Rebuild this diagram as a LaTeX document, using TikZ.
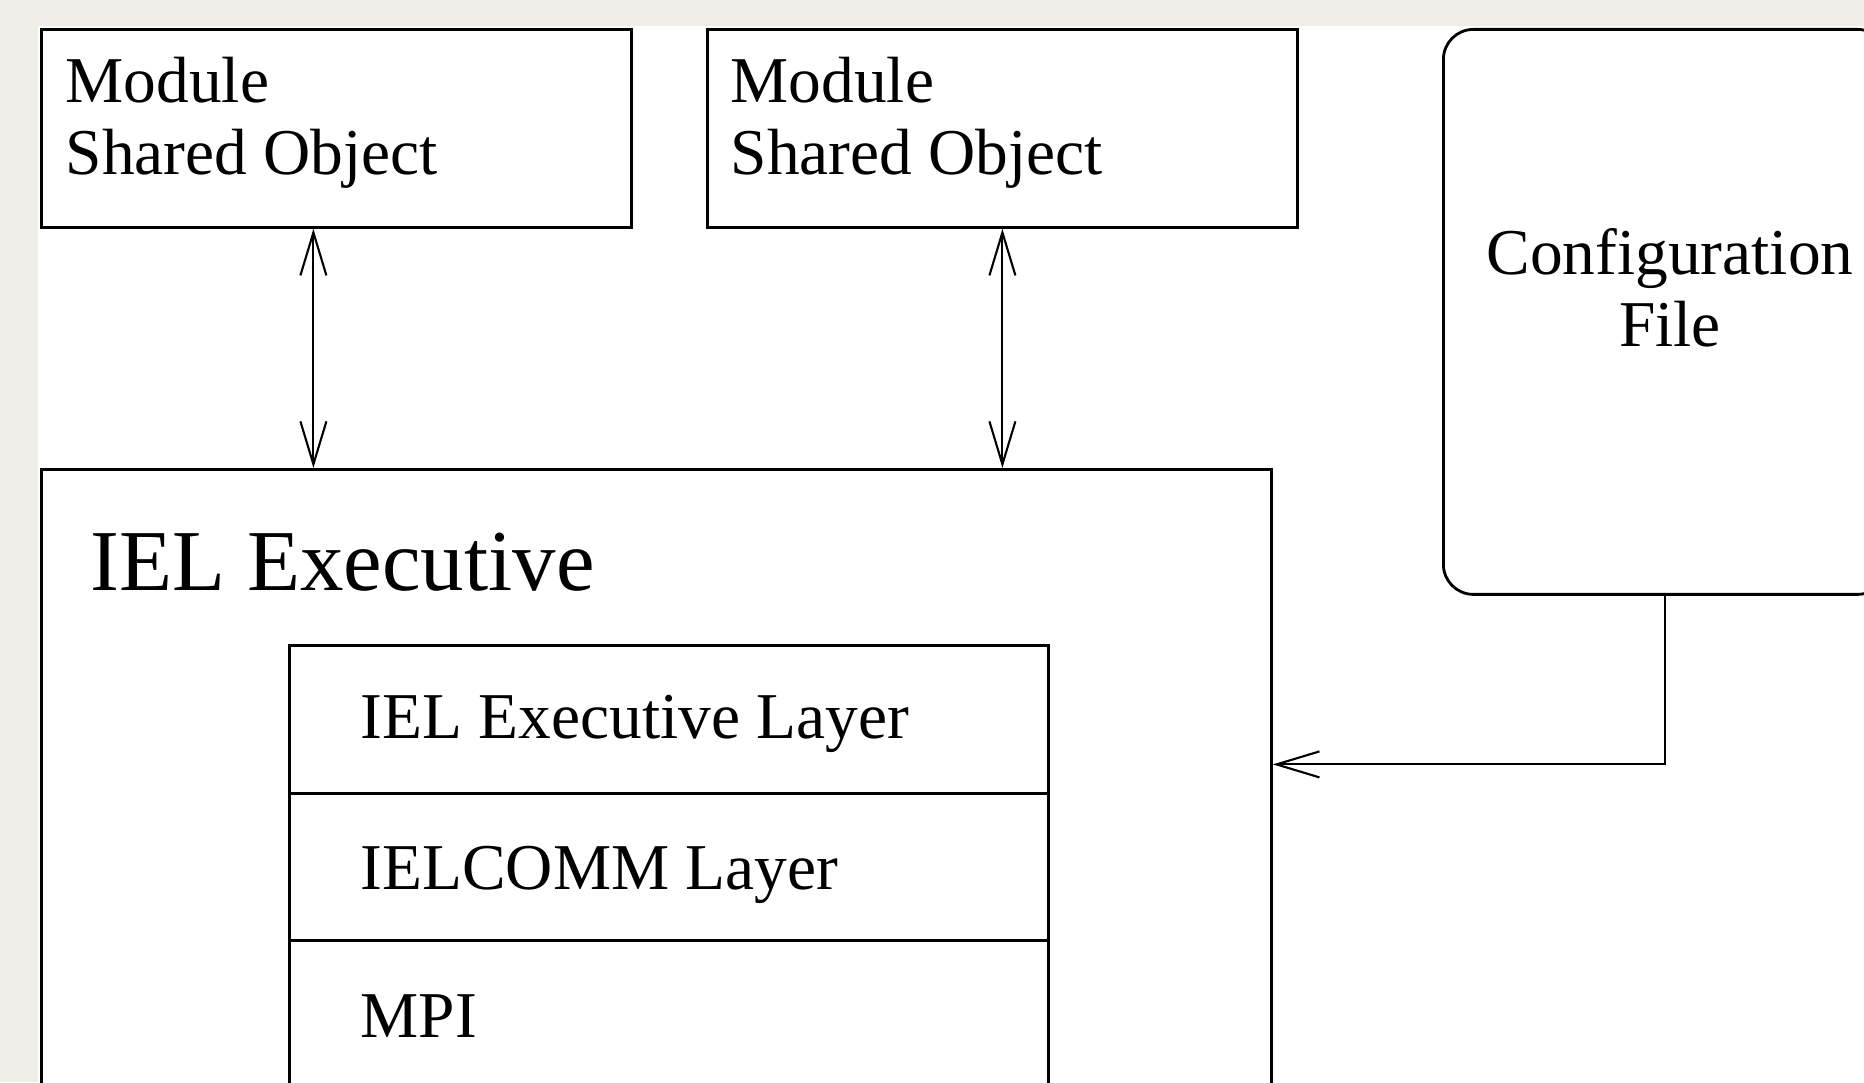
\documentclass[tikz,border=0pt]{standalone}
\usepackage{fontspec}
\setmainfont{Liberation Serif}
\usetikzlibrary{arrows.meta}
\definecolor{sidegray}{RGB}{238,238,231}
\tikzset{
  boks/.style={draw,line width=0.8pt,fill=white,inner sep=0pt,anchor=north west},
  tekst/.style={anchor=base west,inner sep=0pt,font=\fontsize{18.6}{20.7}\selectfont},
  pil/.style={line width=0.6pt},
  >={Straight Barb[length=4.3mm,width=2.6mm]}
}
\begin{document}
\begin{tikzpicture}
  \useasboundingbox (0,0) rectangle (18.64,10.82);
  %baggrund
  	\fill[sidegray] (0,0) rectangle (18.64,10.82);
  	\fill[white] (0.38,0) rectangle (18.64,10.56);

  %moduler
	\node[boks,minimum width=5.90cm,minimum height=1.98cm] (mod1) at (0.40,10.54) {};
	\node[boks,minimum width=5.90cm,minimum height=1.98cm] (mod2) at (7.06,10.54) {};
	%base = sidste linje
	\node[tekst,align=left] (tmod1) at (0.65,9.07) {Module\\Shared Object};
	\node[tekst,align=left] (tmod2) at (7.30,9.07) {Module\\Shared Object};

  %konfigurationsfil
	\node[boks,rounded corners=0.3cm,minimum width=4.44cm,minimum height=5.65cm] (cfg) at (14.42,10.54) {};
	\node[tekst,anchor=base,align=center] (tcfg) at (16.70,7.35) {Configuration\\File};

  %executive med lagene
	\node[boks,minimum width=12.30cm,minimum height=6.64cm] (exec) at (0.40,6.14) {};
	\node[tekst,font=\fontsize{24.7}{28}\selectfont] (texec) at (0.90,4.91) {IEL Executive};
	\node[boks,minimum width=7.59cm,minimum height=1.48cm] (lag1) at (2.88,4.38) {};
	\node[boks,minimum width=7.59cm,minimum height=1.47cm] (lag2) at (2.88,2.90) {};
	\node[boks,minimum width=7.59cm,minimum height=1.48cm] (lag3) at (2.88,1.43) {};
	\node[tekst] (tlag1) at (3.60,3.43) {IEL Executive Layer};
	\node[tekst] (tlag2) at (3.60,1.92) {IELCOMM Layer};
	\node[tekst] (tlag3) at (3.60,0.44) {MPI};

  %pile
	\draw[pil,<->] ([xshift=-2.3mm]mod1.south) -- ([xshift=-2.3mm]mod1.south |- exec.north);
	\draw[pil,<->] (mod2.south) -- (mod2.south |- exec.north);
	\draw[pil,->] (cfg.south) |- ([yshift=3.7mm]exec.east);
\end{tikzpicture}
\end{document}
